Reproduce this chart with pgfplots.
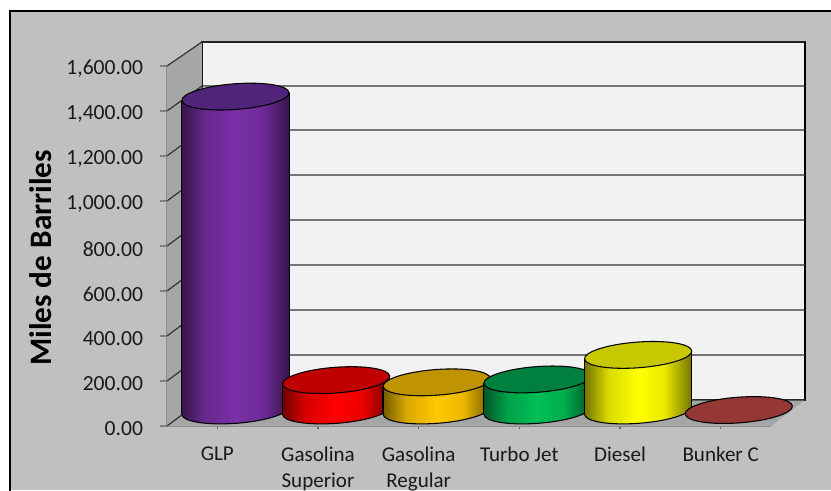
\documentclass[border=0pt]{standalone}
\usepackage{fontspec}
\setmainfont{Carlito}
\usepackage{pgfplots}
\pgfplotsset{compat=1.18}

% 1 px of the reference = 0.75pt here
\definecolor{panel}{HTML}{C0C0C0}
\definecolor{wall}{HTML}{F2F2F2}
\definecolor{side}{HTML}{A6A6A6}
\definecolor{cpurple}{HTML}{7A30A8}
\definecolor{cpurpletop}{HTML}{50247A}
\definecolor{cred}{HTML}{FF0000}
\definecolor{credtop}{HTML}{C00000}
\definecolor{cgold}{HTML}{FFC800}
\definecolor{cgoldtop}{HTML}{C09400}
\definecolor{cgreen}{HTML}{00BE55}
\definecolor{cgreentop}{HTML}{008040}
\definecolor{cyellow}{HTML}{FFFF00}
\definecolor{cyellowtop}{HTML}{C8C800}
\definecolor{cbunkertop}{HTML}{953735}

% tilted ellipse of a cylinder end
\newcommand{\cylend}{\pgfpathellipse{\pgfpointorigin}{\pgfqpoint{40.2pt}{3pt}}{\pgfqpoint{-0.72pt}{9.6pt}}}
\newcommand{\mkcyl}[1]{%
  \pgfdeclarehorizontalshading{cyl#1}{100bp}{%
    color(0bp)=(c#1!45!black); color(25bp)=(c#1!45!black);
    color(36bp)=(c#1!85!black); color(50bp)=(c#1);
    color(62bp)=(c#1!92!black); color(75bp)=(c#1!45!black); color(100bp)=(c#1!45!black)}%
  \pgfdeclareplotmark{bot#1}{\pgfsetstrokecolor{black}\pgfsetlinewidth{.8pt}\cylend\pgfshadepath{cyl#1}{0}\pgfusepath{stroke}}%
  \pgfdeclareplotmark{top#1}{\pgfsetstrokecolor{black}\pgfsetfillcolor{c#1top}\pgfsetlinewidth{.8pt}\cylend\pgfusepath{fill,stroke}}%
}
\mkcyl{purple}\mkcyl{red}\mkcyl{gold}\mkcyl{green}\mkcyl{yellow}
\pgfdeclareplotmark{topbunker}{\pgfsetstrokecolor{black}\pgfsetfillcolor{cbunkertop}\pgfsetlinewidth{.8pt}\cylend\pgfusepath{fill,stroke}}

% category index, value, colour
\newcommand{\cylbody}[3]{%
  \pgfmathsetmacro{\xc}{#1+0.18}\pgfmathsetmacro{\xl}{\xc-0.534}\pgfmathsetmacro{\xr}{\xc+0.534}%
  \pgfmathsetmacro{\yb}{69}\pgfmathsetmacro{\yt}{69+#2}%
  \pgfmathsetmacro{\ybl}{\yb-17}\pgfmathsetmacro{\ybr}{\yb+17}%
  \pgfmathsetmacro{\ytl}{\yt-17}\pgfmathsetmacro{\ytr}{\yt+17}%
  \addplot[only marks,mark=bot#3] coordinates {(\xc,\yb)};
  \addplot[draw=none,shading=cyl#3,no markers] coordinates {(\xl,\ybl) (\xl,\ytl) (\xr,\ytr) (\xr,\ybr)} -- cycle;
  \addplot[black,line width=.8pt,no markers] coordinates {(\xl,\ybl) (\xl,\ytl)};
  \addplot[black,line width=.8pt,no markers] coordinates {(\xr,\ybr) (\xr,\ytr)};
}
\newcommand{\cyltop}[3]{%
  \pgfmathsetmacro{\xc}{#1+0.18}\pgfmathsetmacro{\yt}{69+#2}%
  \addplot[only marks,mark=top#3] coordinates {(\xc,\yt)};
}
\newcommand{\gridl}[2]{%
  \addplot[black!80,line width=.9pt,no markers] coordinates {(-0.5,#1) (-0.152,#2) (5.838,#2)};
}

\begin{document}
\begin{tikzpicture}
  \path[use as bounding box] (0,0) rectangle (623.25pt,367.5pt);
  \fill[white] (0,0) rectangle (623.25pt,367.5pt);
  \fill[panel] (7.5pt,0) rectangle (623.25pt,359.25pt);
  \draw[black,line width=.9pt] (7.5pt,-2pt) -- (7.5pt,359.25pt) -- (626pt,359.25pt);
  \begin{axis}[
    at={(125.25pt,48pt)},anchor=south west,
    scale only axis,width=453pt,height=270pt,
    xmin=-0.5,xmax=5.5,ymin=0,ymax=1600,
    clip=false,clip marker paths=true,
    axis x line=bottom,axis y line=left,
    axis line style={-,draw=black!45,line width=1.2pt},
    tick align=outside,
    tick style={draw=black!50,line width=.9pt},
    major tick length=5pt,
    xtick={0,...,5},
    x tick style={draw=black!60,yshift=3pt},
    xticklabels={GLP,Gasolina\\Superior,Gasolina\\Regular,Turbo Jet,Diesel,Bunker C},
    xticklabel style={font=\fontsize{15.8}{19.5}\selectfont,align=center,anchor=north,yshift=-7.3pt,text=black!90},
    ytick={0,200,...,1600},
    yticklabel style={font=\fontsize{16.2}{19}\selectfont,xshift=-9.5pt,yshift=-2.2pt,text=black!90},
    /pgf/number format/.cd,fixed,fixed zerofill,precision=2,1000 sep={,},assume math mode=true,
    /pgfplots/.cd,
    ylabel={\textbf{Miles de Barriles}},
    ylabel style={at={(axis description cs:-0.2086,0.467)},anchor=center,font=\fontsize{23.4}{27}\selectfont},
  ]
    % back wall, side wall, floor
    \addplot[fill=wall,draw=black,line width=1pt,no markers] coordinates {(-0.152,115.6) (-0.152,1707) (5.838,1707) (5.838,115.6)} -- cycle;
    \addplot[fill=side,draw=none,no markers] coordinates {(-0.5,0) (-0.5,1600) (-0.152,1707) (-0.152,115.6)} -- cycle;
    \addplot[fill=side,draw=none,no markers] coordinates {(-0.5,0) (-0.152,115.6) (5.838,115.6) (5.5,0)} -- cycle;
    \gridl{0}{115.6}
    \gridl{200}{315.6}
    \gridl{400}{515.6}
    \gridl{600}{715.6}
    \gridl{800}{915.6}
    \gridl{1000}{1115.6}
    \gridl{1200}{1315.6}
    \gridl{1400}{1511}
    \gridl{1600}{1707}
    % cylinders, back to front as they overlap
    \cylbody{0}{1395}{purple}
    \cyltop{0}{1395}{purple}
    \cylbody{1}{135}{red}
    \cylbody{2}{125}{gold}
    \cyltop{2}{125}{gold}
    \cyltop{1}{135}{red}
    \cylbody{3}{138}{green}
    \cyltop{3}{138}{green}
    \cylbody{4}{247}{yellow}
    \cyltop{4}{247}{yellow}
    \addplot[only marks,mark=topbunker] coordinates {(5.18,71)};
  \end{axis}
\end{tikzpicture}
\end{document}
